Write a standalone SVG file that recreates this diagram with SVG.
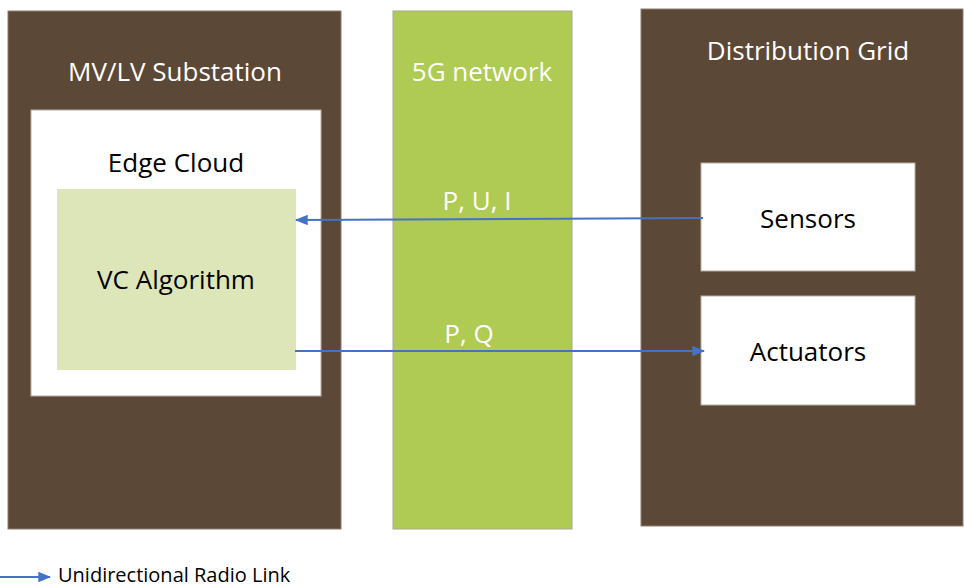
<svg xmlns="http://www.w3.org/2000/svg" width="964" height="587" viewBox="0 0 964 587">
  <style>
    .panel { fill: #5C4836; stroke: #8C7F74; stroke-width: 1; }
    .net { fill: #B0CB53; stroke: #A8A89A; stroke-width: 1; }
    .white { fill: #FFFFFF; stroke: #B8ADA3; stroke-width: 1; }
    .algo { fill: #DCE6B9; }
    .title { font-family: "Open Sans", "Liberation Sans", Arial, sans-serif; font-size: 26px; fill: #FFFFFF; text-anchor: middle; }
    .label { font-family: "Open Sans", "Liberation Sans", Arial, sans-serif; font-size: 26px; fill: #000000; text-anchor: middle; }
    .link { stroke: #4472C4; stroke-width: 2; fill: none; marker-end: url(#arrow); }
    .legend { font-family: "Open Sans", "Liberation Sans", Arial, sans-serif; font-size: 20px; fill: #000000; }
  </style>
  <defs>
    <marker id="arrow" viewBox="0 0 10 10" refX="9" refY="5" markerWidth="6.5" markerHeight="6.5" orient="auto" markerUnits="strokeWidth">
      <path d="M0,1 L10,5 L0,9 Z" fill="#4472C4"/>
    </marker>
  </defs>

  <g id="substation">
    <rect class="panel" x="8" y="11" width="333" height="518"/>
    <text class="title" x="175" y="81">MV/LV Substation</text>
  </g>

  <g id="edge-cloud">
    <rect class="white" x="31" y="110" width="290" height="286"/>
    <text class="label" x="176" y="172">Edge Cloud</text>
  </g>

  <g id="vc-algorithm">
    <rect class="algo" x="57" y="189" width="239" height="181"/>
    <text class="label" x="176" y="289">VC Algorithm</text>
  </g>

  <g id="network">
    <rect class="net" x="393" y="11" width="179" height="518"/>
    <text class="title" x="482" y="81">5G network</text>
  </g>

  <g id="distribution-grid">
    <rect class="panel" x="641" y="9" width="322" height="517"/>
    <text class="title" x="808" y="60">Distribution Grid</text>
  </g>

  <g id="sensors">
    <rect class="white" x="701" y="163" width="214" height="108"/>
    <text class="label" x="808" y="228">Sensors</text>
  </g>

  <g id="actuators">
    <rect class="white" x="701" y="296" width="214" height="109"/>
    <text class="label" x="808" y="361">Actuators</text>
  </g>

  <g id="connectors">
    <line class="link" x1="703" y1="218" x2="296" y2="220"/>
    <text class="title" x="477" y="210">P, U, I</text>
    <line class="link" x1="295" y1="351" x2="704" y2="351"/>
    <text class="title" x="469" y="343">P, Q</text>
  </g>

  <g id="legend">
    <line class="link" x1="0" y1="577" x2="50" y2="577"/>
    <text class="legend" x="58" y="582">Unidirectional Radio Link</text>
  </g>
</svg>
